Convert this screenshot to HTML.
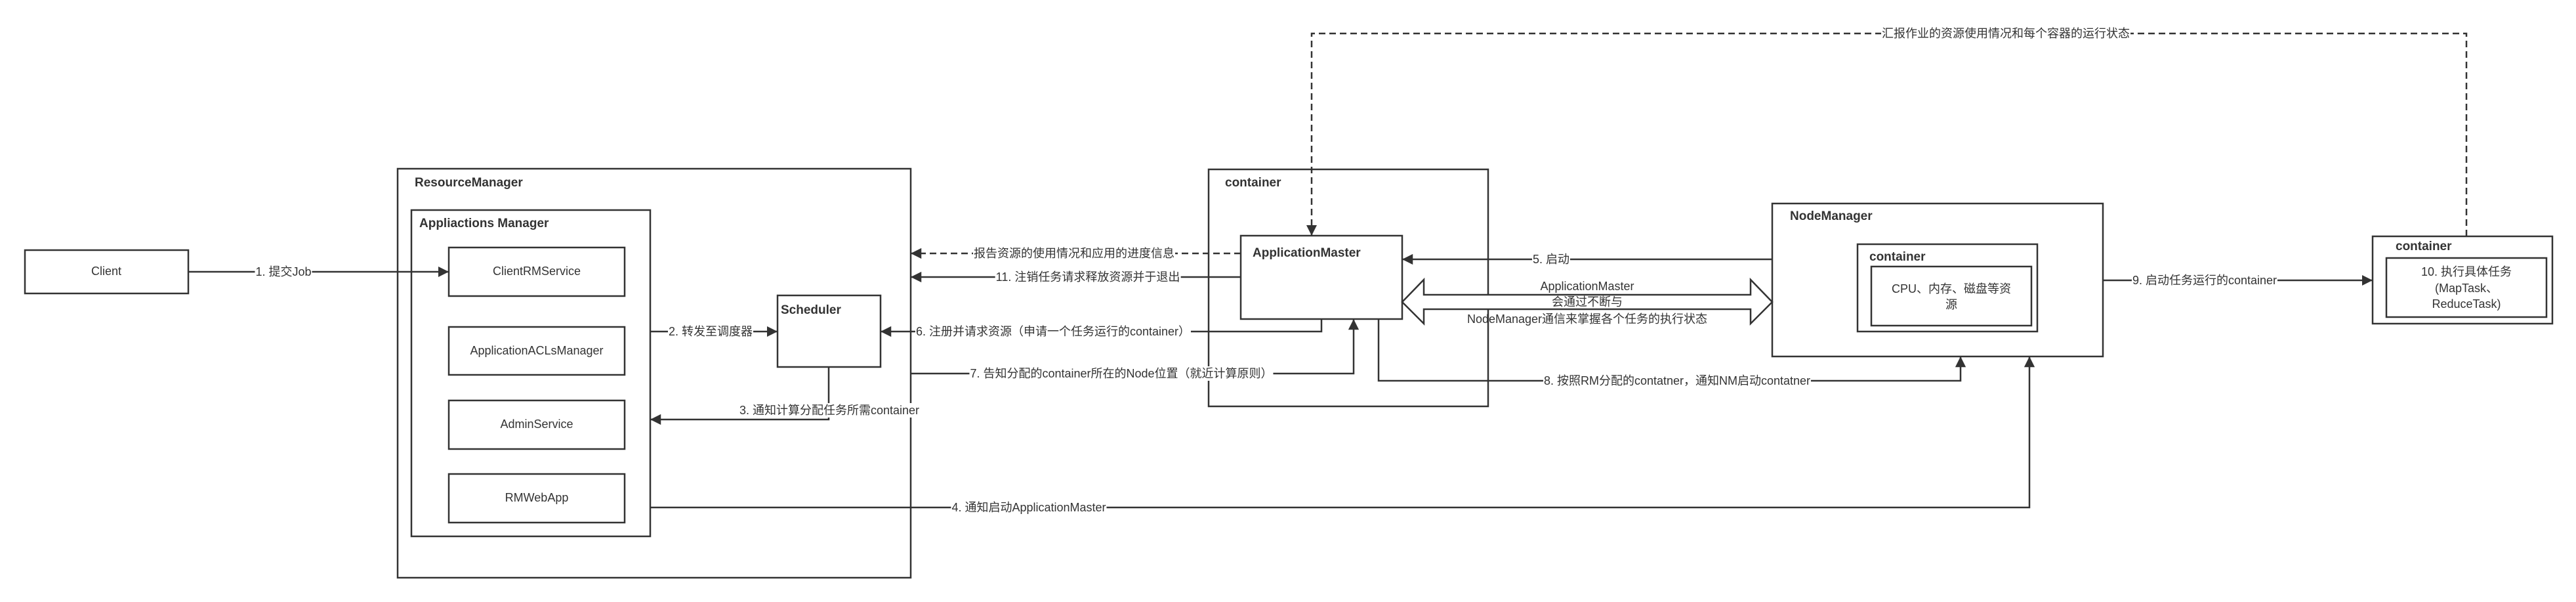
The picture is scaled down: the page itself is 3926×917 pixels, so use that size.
<!DOCTYPE html>
<html><head><meta charset="utf-8"><style>
html,body{margin:0;padding:0;background:#fff}
#w{position:relative;width:3926px;height:917px;overflow:hidden}
svg{display:block;position:absolute;left:0;top:0}
text{font-family:"Liberation Sans","Noto Sans CJK SC",sans-serif;font-size:18px;fill:#333;dominant-baseline:middle}
.b{font-weight:bold;font-size:19px}
.c{text-anchor:middle}
.l{position:absolute;transform:translate(-50%,-50%);background:#fff;white-space:nowrap;font-family:"Liberation Sans","Noto Sans CJK SC",sans-serif;font-size:18px;line-height:22px;color:#333;padding:0 1px}
</style></head><body><div id="w">
<svg width="3926" height="917" viewBox="0 0 3926 917" xmlns="http://www.w3.org/2000/svg">
<defs>
<marker id="a" viewBox="0 0 10 10" refX="10" refY="5" markerWidth="6.5" markerHeight="6.5" markerUnits="strokeWidth" orient="auto"><path d="M0,0 L10,5 L0,10 z" fill="#333"/></marker>
</defs>
<g fill="none" stroke="#333" stroke-width="2.5">
<rect x="38" y="381" width="249" height="66" fill="#fff"/>
<rect x="606" y="257" width="782" height="623"/>
<rect x="627" y="320" width="364" height="497"/>
<rect x="684" y="377" width="268" height="74"/>
<rect x="684" y="498" width="268" height="73"/>
<rect x="684" y="610" width="268" height="74"/>
<rect x="684" y="722" width="268" height="74"/>
<rect x="1185" y="450" width="157" height="109"/>
<rect x="1842" y="258" width="426" height="361"/>
<rect x="1891" y="359" width="246" height="127"/>
<rect x="2701" y="310" width="504" height="233"/>
<rect x="2831" y="372" width="274" height="133"/>
<rect x="2852" y="406" width="244" height="90"/>
<rect x="3616" y="360" width="274" height="133"/>
<rect x="3637" y="393" width="244" height="90"/>
<path d="M287,414 H684" marker-end="url(#a)"/>
<path d="M991,505 H1185" marker-end="url(#a)"/>
<path d="M1263,559 V639 H991" marker-end="url(#a)"/>
<path d="M991,773 H3093 V543" marker-end="url(#a)"/>
<path d="M1891,386 H1388" stroke-dasharray="10,6" marker-end="url(#a)"/>
<path d="M1891,422 H1388" marker-end="url(#a)"/>
<path d="M2014,486 V505 H1342" marker-end="url(#a)"/>
<path d="M1388,569 H2063 V486" marker-end="url(#a)"/>
<path d="M2101,486 V580 H2988 V543" marker-end="url(#a)"/>
<path d="M2701,395 H2137" marker-end="url(#a)"/>
<path d="M3205,427 H3616" marker-end="url(#a)"/>
<path d="M3759,360 V51 H1999 V359" stroke-dasharray="10,6" marker-end="url(#a)"/>
<path d="M2137,460 L2170,426 V449 H2668 V426 L2701,460 L2668,493 V471 H2170 V493 Z" fill="#fff"/>
</g>
<text x="162" y="414" class="c">Client</text>
<text x="632" y="279" class="b">ResourceManager</text>
<text x="639" y="341" class="b">Appliactions Manager</text>
<text x="818" y="414" class="c">ClientRMService</text>
<text x="818" y="535" class="c">ApplicationACLsManager</text>
<text x="818" y="647" class="c">AdminService</text>
<text x="818" y="759" class="c">RMWebApp</text>
<text x="1190" y="473" class="b">Scheduler</text>
<text x="1867" y="279" class="b">container</text>
<text x="1909" y="386" class="b">ApplicationMaster</text>
<text x="2728" y="330" class="b">NodeManager</text>
<text x="2849" y="392" class="b">container</text>
<text x="2974" y="441" class="c">CPU、内存、磁盘等资</text>
<text x="2974" y="465" class="c">源</text>
<text x="3651" y="376" class="b">container</text>
<text x="3759" y="415" class="c">10. 执行具体任务</text>
<text x="3759" y="440" class="c">(MapTask、</text>
<text x="3759" y="464" class="c">ReduceTask)</text>
<text x="2419" y="437" class="c">ApplicationMaster</text>
<text x="2419" y="461" class="c">会通过不断与</text>
<text x="2419" y="487" class="c">NodeManager通信来掌握各个任务的执行状态</text>
</svg>
<div class="l" style="left:432px;top:414px">1. 提交Job</div>
<div class="l" style="left:1083px;top:505px">2. 转发至调度器</div>
<div class="l" style="left:1264px;top:625px">3. 通知计算分配任务所需container</div>
<div class="l" style="left:1568px;top:773px">4. 通知启动ApplicationMaster</div>
<div class="l" style="left:1637px;top:386px">报告资源的使用情况和应用的进度信息</div>
<div class="l" style="left:1658px;top:422px">11. 注销任务请求释放资源并于退出</div>
<div class="l" style="left:1605px;top:505px">6. 注册并请求资源（申请一个任务运行的container）</div>
<div class="l" style="left:1709px;top:569px">7. 告知分配的container所在的Node位置（就近计算原则）</div>
<div class="l" style="left:2556px;top:580px">8. 按照RM分配的contatner，通知NM启动contatner</div>
<div class="l" style="left:2364px;top:395px">5. 启动</div>
<div class="l" style="left:3360px;top:427px">9. 启动任务运行的container</div>
<div class="l" style="left:3057px;top:51px">汇报作业的资源使用情况和每个容器的运行状态</div>
</div></body></html>
